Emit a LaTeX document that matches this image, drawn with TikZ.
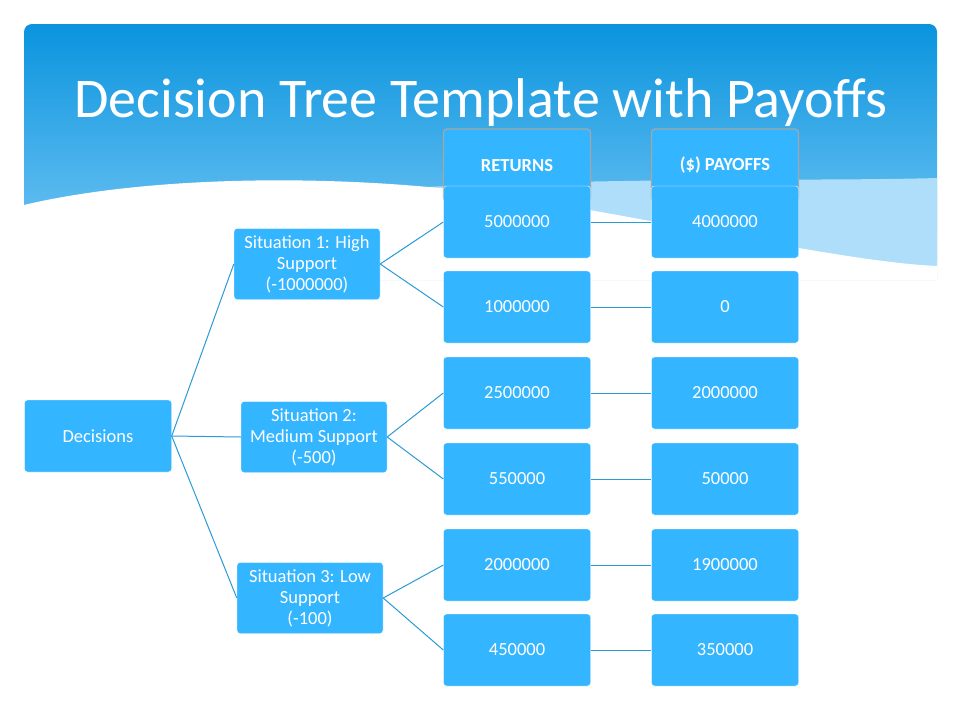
\documentclass[tikz,border=0pt]{standalone}
\usepackage{fontspec}
\setmainfont{Carlito}
\usetikzlibrary{positioning}
\definecolor{boxblue}{RGB}{51,181,255}
\definecolor{linkblue}{RGB}{43,155,214}
\definecolor{topblue}{RGB}{10,148,222}
\definecolor{lowblue}{RGB}{120,200,245}
\definecolor{paleblue}{RGB}{175,222,250}
\tikzset{
  box/.style={draw=white,fill=boxblue,rounded corners=3pt,minimum width=147pt,
    minimum height=72pt,text=white,align=center,font=\fontsize{18.5}{21}\selectfont},
  sit/.style={box,minimum width=146pt,minimum height=71pt,inner sep=2pt},
  head/.style={box,draw=gray!70,line width=1.2pt,font=\fontsize{18.5}{21}\selectfont\bfseries},
  link/.style={draw=linkblue,line width=1pt}
}
\begin{document}
\begin{tikzpicture}[x=1pt,y=-1pt]
  \useasboundingbox (0,0) rectangle (960,720);
  % slide background
  \fill[white] (0,0) rectangle (960,720);
  \shade[top color=topblue,bottom color=lowblue,rounded corners=8pt]
    (24,270) -- (24,24) -- (937,24) -- (937,270) -- cycle;
  \fill[paleblue] (300,195) .. controls (550,175) and (800,182) .. (937,178)
    -- (937,280) -- (300,280) -- cycle;
  \fill[white] (24,205) .. controls (150,175) and (350,172) .. (520,198)
    .. controls (700,228) and (850,262) .. (937,266) -- (937,280) -- (24,280) -- cycle;
  \node[text=white,font=\fontsize{56}{62}\selectfont] (title) at (481,103)
    {Decision Tree Template with Payoffs};

  % tree
  \node[box] (dec) at (98,436) {Decisions};
  \node[sit] (s1) at (307,264) {Situation 1: High\\Support\\(-1000000)};
  \node[sit] (s2) at (314,437) {Situation 2:\\Medium Support\\(-500)};
  \node[sit] (s3) at (310,598) {Situation 3: Low\\Support\\(-100)};

  \node[head] (rh) at (517,165) {RETURNS};
  \node[head] (ph) at (725,165) {(\$) PAYOFFS};

  \foreach \i/\y/\r/\p in {1/222/5000000/4000000, 2/307/1000000/0,
      3/393/2500000/2000000, 4/479/550000/50000,
      5/565/2000000/1900000, 6/650/450000/350000} {
    \node[box] (r\i) at (517,\y) {\r};
    \node[box] (p\i) at (725,\y) {\p};
    \draw[link] (r\i.east) -- (p\i.west);
  }

  \foreach \s in {s1,s2,s3}
    \draw[link] (dec.east) -- (\s.west);
  \draw[link] (s1.east) -- (r1.west);
  \draw[link] (s1.east) -- (r2.west);
  \draw[link] (s2.east) -- (r3.west);
  \draw[link] (s2.east) -- (r4.west);
  \draw[link] (s3.east) -- (r5.west);
  \draw[link] (s3.east) -- (r6.west);
\end{tikzpicture}
\end{document}
